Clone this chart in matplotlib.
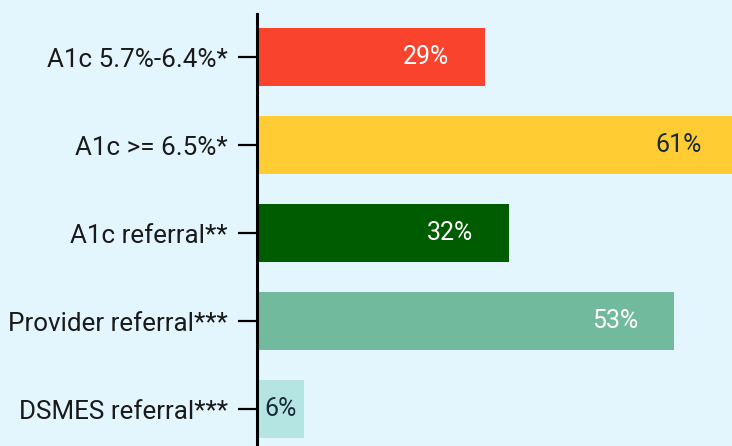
import matplotlib
matplotlib.use("Agg")
import matplotlib.pyplot as plt

categories = ["A1c 5.7%-6.4%*", "A1c >= 6.5%*", "A1c referral**",
              "Provider referral***", "DSMES referral***"]
values = [29, 61, 32, 53, 6]
labels = ["29%", "61%", "32%", "53%", "6%"]
colors = ["#F9432C", "#FFCD33", "#005C00", "#72BA9E", "#B4E5E3"]
text_colors = ["white", "#1B2A3A", "white", "white", "#1B2A3A"]

bg = "#E3F6FD"

fig = plt.figure(figsize=(7.32, 4.46), dpi=100, facecolor=bg)
ax = fig.add_axes([257 / 732, 0, 1 - 257 / 732, 432 / 446])
ax.set_facecolor(bg)

y = list(range(len(categories)))
ax.barh(y, values, height=0.66, color=colors)
ax.set_xlim(0, 60.3)
ax.set_ylim(4.42, -0.49)

val_font = dict(fontsize=18, family="Roboto", fontstretch="condensed")
for i, (v, lab) in enumerate(zip(values, labels)):
    if v < 10:
        ax.annotate(lab, (v / 2, i), ha="center", va="center",
                    color=text_colors[i], **val_font)
    else:
        ax.annotate(lab, (v, i), xytext=(-26, 0), textcoords="offset points",
                    ha="right", va="center", color=text_colors[i],
                    annotation_clip=False, **val_font)

ax.set_yticks(y)
ax.set_yticklabels(categories, family="Roboto", fontsize=18.7, color="#1A1A1A")
ax.tick_params(axis="y", length=14, width=1.6, pad=7, color="black")
ax.set_xticks([])
for s in ["top", "right", "bottom"]:
    ax.spines[s].set_visible(False)
ax.spines["left"].set_linewidth(2.2)

fig.savefig("out.png", dpi=100, facecolor=bg)
